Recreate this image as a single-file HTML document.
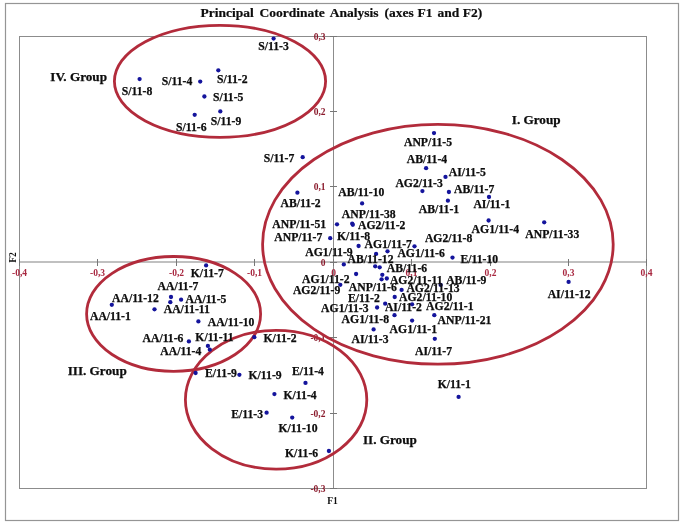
<!DOCTYPE html>
<html><head><meta charset="utf-8"><style>
html,body{margin:0;padding:0;background:#fff;}
body{width:685px;height:525px;overflow:hidden;}
svg{display:block;will-change:transform;}
text{font-family:"Liberation Serif",serif;}
.l{font-weight:bold;font-size:11.7px;fill:#0d0d0d;text-anchor:middle;stroke:#0d0d0d;stroke-width:0.25px;}
.g{font-weight:bold;font-size:13.2px;fill:#0d0d0d;text-anchor:middle;stroke:#0d0d0d;stroke-width:0.25px;}
.t{font-size:9.5px;font-weight:bold;fill:#8a1a2c;}
</style></head><body>
<svg width="685" height="525" viewBox="0 0 685 525">
<rect x="0" y="0" width="685" height="525" fill="#fff"/>

<rect x="5.5" y="3.5" width="673" height="517" fill="none" stroke="#959595" stroke-width="1.2"/>
<text x="200.5" y="16.8" style="font-weight:bold;font-size:13.5px;fill:#0d0d0d;stroke:#0d0d0d;stroke-width:0.2px">Principal</text>
<text x="259.5" y="16.8" style="font-weight:bold;font-size:13.5px;fill:#0d0d0d;stroke:#0d0d0d;stroke-width:0.2px">Coordinate</text>
<text x="329.8" y="16.8" style="font-weight:bold;font-size:13.5px;fill:#0d0d0d;stroke:#0d0d0d;stroke-width:0.2px">Analysis</text>
<text x="384.6" y="16.8" style="font-weight:bold;font-size:13.5px;fill:#0d0d0d;stroke:#0d0d0d;stroke-width:0.2px">(axes</text>
<text x="417.6" y="16.8" style="font-weight:bold;font-size:13.5px;fill:#0d0d0d;stroke:#0d0d0d;stroke-width:0.2px">F1</text>
<text x="437.5" y="16.8" style="font-weight:bold;font-size:13.5px;fill:#0d0d0d;stroke:#0d0d0d;stroke-width:0.2px">and</text>
<text x="462.8" y="16.8" style="font-weight:bold;font-size:13.5px;fill:#0d0d0d;stroke:#0d0d0d;stroke-width:0.2px">F2)</text>
<rect x="19.5" y="36.5" width="627" height="452" fill="none" stroke="#8c8c8c" stroke-width="1"/>
<line x1="19.5" y1="262" x2="646.5" y2="262" stroke="#ababab" stroke-width="1.6"/>
<line x1="333.5" y1="36.5" x2="333.5" y2="488.5" stroke="#8c8c8c" stroke-width="1"/>
<line x1="19.5" y1="259" x2="19.5" y2="266" stroke="#777" stroke-width="1"/>
<line x1="97.5" y1="259" x2="97.5" y2="266" stroke="#777" stroke-width="1"/>
<line x1="176.5" y1="259" x2="176.5" y2="266" stroke="#777" stroke-width="1"/>
<line x1="254.5" y1="259" x2="254.5" y2="266" stroke="#777" stroke-width="1"/>
<line x1="333.5" y1="259" x2="333.5" y2="266" stroke="#777" stroke-width="1"/>
<line x1="411.5" y1="259" x2="411.5" y2="266" stroke="#777" stroke-width="1"/>
<line x1="490.5" y1="259" x2="490.5" y2="266" stroke="#777" stroke-width="1"/>
<line x1="568.5" y1="259" x2="568.5" y2="266" stroke="#777" stroke-width="1"/>
<line x1="646.5" y1="259" x2="646.5" y2="266" stroke="#777" stroke-width="1"/>
<line x1="330" y1="36.5" x2="337" y2="36.5" stroke="#777" stroke-width="1"/>
<line x1="330" y1="111.5" x2="337" y2="111.5" stroke="#777" stroke-width="1"/>
<line x1="330" y1="186.5" x2="337" y2="186.5" stroke="#777" stroke-width="1"/>
<line x1="330" y1="262.5" x2="337" y2="262.5" stroke="#777" stroke-width="1"/>
<line x1="330" y1="337.5" x2="337" y2="337.5" stroke="#777" stroke-width="1"/>
<line x1="330" y1="413.5" x2="337" y2="413.5" stroke="#777" stroke-width="1"/>
<line x1="330" y1="488.5" x2="337" y2="488.5" stroke="#777" stroke-width="1"/>
<text class="t" x="19.5" y="276.2" text-anchor="middle" style="fill:#a82840">-0,4</text>
<text class="t" x="97.5" y="276.2" text-anchor="middle" style="fill:#a82840">-0,3</text>
<text class="t" x="176.5" y="276.2" text-anchor="middle" style="fill:#a82840">-0,2</text>
<text class="t" x="254.5" y="276.2" text-anchor="middle" style="fill:#a82840">-0,1</text>
<text class="t" x="333.5" y="276.2" text-anchor="middle" style="fill:#a82840">0</text>
<text class="t" x="411.5" y="276.2" text-anchor="middle" style="fill:#a82840">0,1</text>
<text class="t" x="490.5" y="276.2" text-anchor="middle" style="fill:#a82840">0,2</text>
<text class="t" x="568.5" y="276.2" text-anchor="middle" style="fill:#a82840">0,3</text>
<text class="t" x="646.5" y="276.2" text-anchor="middle" style="fill:#a82840">0,4</text>
<text class="t" x="325.5" y="39.8" text-anchor="end">0,3</text>
<text class="t" x="325.5" y="114.8" text-anchor="end">0,2</text>
<text class="t" x="325.5" y="189.8" text-anchor="end">0,1</text>
<text class="t" x="325.5" y="265.8" text-anchor="end">0</text>
<text class="t" x="325.5" y="340.8" text-anchor="end">-0,1</text>
<text class="t" x="325.5" y="416.8" text-anchor="end">-0,2</text>
<text class="t" x="325.5" y="491.8" text-anchor="end">-0,3</text>
<text x="332.5" y="504" style="font-weight:bold;font-size:9.5px;fill:#0d0d0d;text-anchor:middle">F1</text>
<text transform="translate(16,257.5) rotate(-90)" style="font-weight:bold;font-size:9.5px;fill:#0d0d0d;text-anchor:middle">F2</text>
<ellipse cx="220.0" cy="81.3" rx="105.6" ry="56.0" fill="none" stroke="#b22b3b" stroke-width="2.8"/>
<ellipse cx="437.9" cy="244.3" rx="175.3" ry="119.9" fill="none" stroke="#b22b3b" stroke-width="2.8"/>
<ellipse cx="173.6" cy="313.9" rx="87.0" ry="57.4" fill="none" stroke="#b22b3b" stroke-width="2.8"/>
<ellipse cx="276.1" cy="399.7" rx="90.7" ry="69.4" fill="none" stroke="#b22b3b" stroke-width="2.8"/>
<circle cx="273.6" cy="38.6" r="2.15" fill="#14149c"/>
<circle cx="139.6" cy="79.1" r="2.15" fill="#14149c"/>
<circle cx="200.2" cy="81.6" r="2.15" fill="#14149c"/>
<circle cx="218.3" cy="70.3" r="2.15" fill="#14149c"/>
<circle cx="204.4" cy="96.5" r="2.15" fill="#14149c"/>
<circle cx="194.7" cy="114.8" r="2.15" fill="#14149c"/>
<circle cx="220.3" cy="111.4" r="2.15" fill="#14149c"/>
<circle cx="302.7" cy="157.2" r="2.15" fill="#14149c"/>
<circle cx="434.0" cy="133.1" r="2.15" fill="#14149c"/>
<circle cx="426.1" cy="168.2" r="2.15" fill="#14149c"/>
<circle cx="445.5" cy="176.9" r="2.15" fill="#14149c"/>
<circle cx="422.4" cy="191.1" r="2.15" fill="#14149c"/>
<circle cx="448.9" cy="192.0" r="2.15" fill="#14149c"/>
<circle cx="447.9" cy="200.7" r="2.15" fill="#14149c"/>
<circle cx="489.0" cy="197.0" r="2.15" fill="#14149c"/>
<circle cx="297.4" cy="192.7" r="2.15" fill="#14149c"/>
<circle cx="362.1" cy="203.4" r="2.15" fill="#14149c"/>
<circle cx="337.0" cy="224.3" r="2.15" fill="#14149c"/>
<circle cx="352.2" cy="223.6" r="2.15" fill="#14149c"/>
<circle cx="352.8" cy="224.8" r="2.15" fill="#14149c"/>
<circle cx="330.2" cy="238.2" r="2.15" fill="#14149c"/>
<circle cx="488.6" cy="220.5" r="2.15" fill="#14149c"/>
<circle cx="544.2" cy="222.3" r="2.15" fill="#14149c"/>
<circle cx="358.6" cy="246.0" r="2.15" fill="#14149c"/>
<circle cx="414.5" cy="246.3" r="2.15" fill="#14149c"/>
<circle cx="387.5" cy="251.3" r="2.15" fill="#14149c"/>
<circle cx="376.1" cy="253.9" r="2.15" fill="#14149c"/>
<circle cx="452.5" cy="257.6" r="2.15" fill="#14149c"/>
<circle cx="343.8" cy="264.4" r="2.15" fill="#14149c"/>
<circle cx="375.2" cy="266.3" r="2.15" fill="#14149c"/>
<circle cx="379.7" cy="267.3" r="2.15" fill="#14149c"/>
<circle cx="356.1" cy="274.0" r="2.15" fill="#14149c"/>
<circle cx="382.3" cy="274.8" r="2.15" fill="#14149c"/>
<circle cx="381.6" cy="279.3" r="2.15" fill="#14149c"/>
<circle cx="386.8" cy="278.5" r="2.15" fill="#14149c"/>
<circle cx="340.3" cy="284.8" r="2.15" fill="#14149c"/>
<circle cx="401.6" cy="289.9" r="2.15" fill="#14149c"/>
<circle cx="440.7" cy="284.9" r="2.15" fill="#14149c"/>
<circle cx="394.7" cy="297.0" r="2.15" fill="#14149c"/>
<circle cx="377.1" cy="307.5" r="2.15" fill="#14149c"/>
<circle cx="385.2" cy="303.7" r="2.15" fill="#14149c"/>
<circle cx="412.1" cy="304.3" r="2.15" fill="#14149c"/>
<circle cx="394.5" cy="315.2" r="2.15" fill="#14149c"/>
<circle cx="434.3" cy="315.2" r="2.15" fill="#14149c"/>
<circle cx="412.1" cy="320.6" r="2.15" fill="#14149c"/>
<circle cx="373.6" cy="329.4" r="2.15" fill="#14149c"/>
<circle cx="434.8" cy="338.8" r="2.15" fill="#14149c"/>
<circle cx="568.6" cy="281.9" r="2.15" fill="#14149c"/>
<circle cx="206.1" cy="265.4" r="2.15" fill="#14149c"/>
<circle cx="111.8" cy="304.8" r="2.15" fill="#14149c"/>
<circle cx="154.5" cy="309.3" r="2.15" fill="#14149c"/>
<circle cx="171.0" cy="297.0" r="2.15" fill="#14149c"/>
<circle cx="170.3" cy="302.2" r="2.15" fill="#14149c"/>
<circle cx="181.1" cy="299.7" r="2.15" fill="#14149c"/>
<circle cx="198.4" cy="321.4" r="2.15" fill="#14149c"/>
<circle cx="188.9" cy="341.4" r="2.15" fill="#14149c"/>
<circle cx="207.9" cy="345.9" r="2.15" fill="#14149c"/>
<circle cx="209.8" cy="349.7" r="2.15" fill="#14149c"/>
<circle cx="254.3" cy="337.2" r="2.15" fill="#14149c"/>
<circle cx="195.6" cy="373.0" r="2.15" fill="#14149c"/>
<circle cx="239.4" cy="374.8" r="2.15" fill="#14149c"/>
<circle cx="305.5" cy="382.9" r="2.15" fill="#14149c"/>
<circle cx="274.4" cy="394.1" r="2.15" fill="#14149c"/>
<circle cx="266.6" cy="412.7" r="2.15" fill="#14149c"/>
<circle cx="292.2" cy="417.6" r="2.15" fill="#14149c"/>
<circle cx="328.9" cy="451.0" r="2.15" fill="#14149c"/>
<circle cx="458.6" cy="396.9" r="2.15" fill="#14149c"/>
<text class="l" x="273.5" y="49.9">S/11-3</text>
<text class="l" x="137.0" y="95.3">S/11-8</text>
<text class="l" x="177.1" y="84.5">S/11-4</text>
<text class="l" x="232.3" y="83.4">S/11-2</text>
<text class="l" x="228.2" y="101.4">S/11-5</text>
<text class="l" x="226.1" y="125.4">S/11-9</text>
<text class="l" x="191.3" y="130.5">S/11-6</text>
<text class="l" x="279.0" y="162.4">S/11-7</text>
<text class="l" x="428.0" y="145.8">ANP/11-5</text>
<text class="l" x="427.0" y="163.3">AB/11-4</text>
<text class="l" x="467.3" y="176.3">AI/11-5</text>
<text class="l" x="419.1" y="187.4">AG2/11-3</text>
<text class="l" x="474.2" y="193.3">AB/11-7</text>
<text class="l" x="491.9" y="208.4">AI/11-1</text>
<text class="l" x="439.0" y="213.3">AB/11-1</text>
<text class="l" x="361.3" y="195.6">AB/11-10</text>
<text class="l" x="300.6" y="207.0">AB/11-2</text>
<text class="l" x="368.7" y="218.0">ANP/11-38</text>
<text class="l" x="299.2" y="228.0">ANP/11-51</text>
<text class="l" x="381.7" y="229.2">AG2/11-2</text>
<text class="l" x="298.3" y="241.0">ANP/11-7</text>
<text class="l" x="353.6" y="240.3">K/11-8</text>
<text class="l" x="448.6" y="242.0">AG2/11-8</text>
<text class="l" x="495.3" y="232.5">AG1/11-4</text>
<text class="l" x="552.3" y="238.0">ANP/11-33</text>
<text class="l" x="388.2" y="248.1">AG1/11-7</text>
<text class="l" x="329.0" y="256.4">AG1/11-9</text>
<text class="l" x="421.1" y="257.1">AG1/11-6</text>
<text class="l" x="479.3" y="262.8">E/11-10</text>
<text class="l" x="370.5" y="262.6">AB/11-12</text>
<text class="l" x="407.0" y="272.3">AB/11-6</text>
<text class="l" x="325.8" y="283.4">AG1/11-2</text>
<text class="l" x="416.2" y="283.7">AG2/11-11</text>
<text class="l" x="466.3" y="283.8">AB/11-9</text>
<text class="l" x="316.6" y="293.9">AG2/11-9</text>
<text class="l" x="372.8" y="290.5">ANP/11-6</text>
<text class="l" x="433.0" y="291.8">AG2/11-13</text>
<text class="l" x="363.9" y="301.5">E/11-2</text>
<text class="l" x="425.7" y="300.8">AG2/11-10</text>
<text class="l" x="344.8" y="311.9">AG1/11-3</text>
<text class="l" x="403.4" y="310.9">AI/11-2</text>
<text class="l" x="449.8" y="309.5">AG2/11-1</text>
<text class="l" x="365.3" y="322.8">AG1/11-8</text>
<text class="l" x="464.5" y="324.0">ANP/11-21</text>
<text class="l" x="413.3" y="333.0">AG1/11-1</text>
<text class="l" x="370.1" y="343.4">AI/11-3</text>
<text class="l" x="433.5" y="354.5">AI/11-7</text>
<text class="l" x="569.1" y="298.1">AI/11-12</text>
<text class="l" x="207.2" y="277.1">K/11-7</text>
<text class="l" x="178.0" y="289.5">AA/11-7</text>
<text class="l" x="135.4" y="301.5">AA/11-12</text>
<text class="l" x="206.0" y="302.5">AA/11-5</text>
<text class="l" x="186.8" y="313.0">AA/11-11</text>
<text class="l" x="110.4" y="320.0">AA/11-1</text>
<text class="l" x="231.1" y="326.0">AA/11-10</text>
<text class="l" x="163.0" y="341.6">AA/11-6</text>
<text class="l" x="214.5" y="341.0">K/11-11</text>
<text class="l" x="180.8" y="354.9">AA/11-4</text>
<text class="l" x="280.0" y="341.7">K/11-2</text>
<text class="l" x="221.0" y="377.4">E/11-9</text>
<text class="l" x="265.1" y="379.4">K/11-9</text>
<text class="l" x="308.0" y="374.7">E/11-4</text>
<text class="l" x="300.1" y="398.6">K/11-4</text>
<text class="l" x="247.2" y="417.6">E/11-3</text>
<text class="l" x="298.0" y="432.3">K/11-10</text>
<text class="l" x="301.6" y="456.6">K/11-6</text>
<text class="l" x="454.2" y="387.8">K/11-1</text>
<text class="g" x="78.7" y="81.3">IV. Group</text>
<text class="g" x="536.2" y="123.9">I. Group</text>
<text class="g" x="97.2" y="375.4">III. Group</text>
<text class="g" x="389.9" y="443.9">II. Group</text>
</svg></body></html>
